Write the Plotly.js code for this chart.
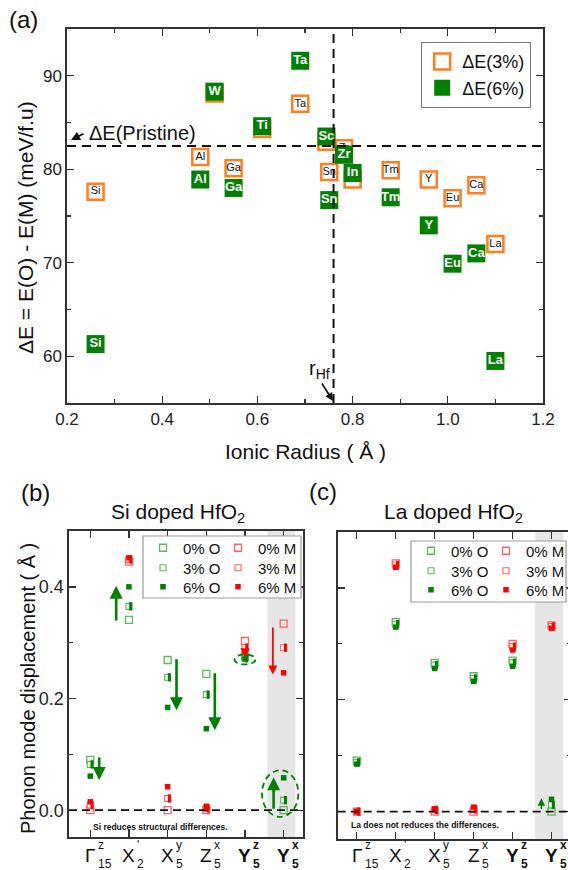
<!DOCTYPE html>
<html><head><meta charset="utf-8">
<script src="https://cdn.plot.ly/plotly-3.0.1.min.js"></script>
<style>html,body{margin:0;padding:0;overflow:hidden;background:#fff}#chart{width:572px;height:870px}</style>
</head><body><div id="chart"></div>
<script>
const W=572,H=870;
const px=v=>v/W, py=v=>1-v/H;
const FONT='Liberation Sans, Arial, sans-serif';

// ---------- Panel (a) data ----------
const elements=['Si','Al','Ga','W','Ti','Ta','Sc','Zr','Sn','In','Tm','Y','Eu','Ca','La'];
const ionicRadius=[0.26,0.48,0.55,0.51,0.61,0.69,0.745,0.782,0.751,0.80,0.88,0.96,1.01,1.06,1.10];
const dE3=[77.6,81.3,80.1,88.1,84.3,87.0,82.95,82.25,79.7,78.9,79.9,78.9,76.9,78.3,72.0];
const dE6=[61.3,78.9,78.0,88.3,84.6,91.6,83.5,81.55,76.7,79.6,77.0,74.0,69.9,71.0,59.5];
const pristineDE=82.5;
const rHf=0.76;

// ---------- Panels (b),(c) data ----------
const modeIdx=[0,1,2,3,4,5];
const modeMain=['Γ','X','X','Z','Y','Y'];
const modeSup=['z',"'",'y','x','z','x'];
const modeSub=['15','2','5','5','5','5'];
const modeBold=[false,false,false,false,true,true];

const siO0=[0.090,0.341,0.269,0.244,0.276,0.000];
const siO3=[0.082,0.365,0.238,0.207,0.272,0.018];
const siO6=[0.061,0.400,0.184,0.146,0.271,0.058];
const siM0=[0.000,0.445,0.000,0.000,0.303,0.334];
const siM3=[0.009,0.449,0.021,0.003,0.291,0.291];
const siM6=[0.015,0.452,0.042,0.007,0.283,0.246];

const laO0=[0.091,0.339,0.266,0.242,0.270,0.000];
const laO3=[0.088,0.335,0.262,0.238,0.266,0.012];
const laO6=[0.085,0.330,0.256,0.233,0.260,0.022];
const laM0=[0.000,0.444,0.000,0.000,0.300,0.333];
const laM3=[0.000,0.441,0.003,0.004,0.295,0.331];
const laM6=[0.000,0.437,0.005,0.008,0.289,0.328];

// arrows: [x, tailY, headY, color, width]
const arrowsSi=[[0.23,0.097,0.054,'#008000',2.6],[0.67,0.337,0.402,'#008000',2.6],[2.23,0.273,0.179,'#008000',2.6],
  [3.22,0.248,0.143,'#008000',2.6],[4.0,0.292,0.274,'#ff0000',1.8],[4.72,0.330,0.243,'#ff0000',1.8],[4.74,0.0,0.059,'#008000',2.6]];
const arrowsLa=[[4.74,0.002,0.024,'#008000',1.5]];
const ellipsesSi=[[4.44,5.38,-0.012,0.0716],[3.73,4.27,0.261,0.279]];
const shadeRange=[4.58,5.3];

const GREEN='#008000', LGREEN='#5cb85c', RED='#ff0000', LRED='#ff6060', ORANGE='#ff7f1a';
const halfOffset=0.045;

const traces=[];
traces.push({type:'scatter',mode:'markers+text',x:ionicRadius,y:dE3,text:elements,textposition:'middle center',
  textfont:{family:FONT,size:11,color:'#111'},name:'ΔE(3%)',legend:'legend',xaxis:'x',yaxis:'y',cliponaxis:false,
  marker:{symbol:'square',size:16,color:'white',line:{color:ORANGE,width:2.5}}});
traces.push({type:'scatter',mode:'markers+text',x:ionicRadius,y:dE6,text:elements.map(e=>'<b>'+e+'</b>'),textposition:'middle center',
  textfont:{family:FONT,size:13,color:'white'},name:'ΔE(6%)',legend:'legend',xaxis:'x',yaxis:'y',cliponaxis:false,
  marker:{symbol:'square',size:18,color:GREEN,line:{width:0}}});

const legends={};
let legCount=1;
function addSeries(vals,kind,dark,light,name,xa,ya,legX,legY){
  legCount++;
  const leg='legend'+legCount;
  legends[leg]={bgcolor:'rgba(0,0,0,0)',borderwidth:0,xanchor:'left',yanchor:'middle',xref:'paper',yref:'paper',
    font:{family:FONT,size:15,color:'#111'},x:px(legX),y:py(legY)};
  if(kind===0){
    traces.push({type:'scatter',mode:'markers',x:modeIdx,y:vals,name:name,legend:leg,xaxis:xa,yaxis:ya,cliponaxis:false,
      marker:{symbol:'square-open',size:7,color:light,line:{width:1.3,color:light}}});
  } else if(kind===3){
    traces.push({type:'scatter',mode:'markers',x:modeIdx,y:vals,name:name,legend:leg,xaxis:xa,yaxis:ya,cliponaxis:false,
      marker:{symbol:'square',size:6,color:'white',line:{width:1.1,color:light}}});
    traces.push({type:'scatter',mode:'markers',x:modeIdx.map(v=>v+halfOffset),y:vals,showlegend:false,xaxis:xa,yaxis:ya,cliponaxis:false,hoverinfo:'skip',
      marker:{symbol:'line-ns-open',size:6,color:dark,line:{width:3,color:dark}}});
  } else {
    traces.push({type:'scatter',mode:'markers',x:modeIdx,y:vals,name:name,legend:leg,xaxis:xa,yaxis:ya,cliponaxis:false,
      marker:{symbol:'square',size:5.5,color:dark,line:{width:0}}});
  }
}
addSeries(siO0,0,GREEN,LGREEN,'0% O','x2','y2',143,548);
addSeries(siO3,3,GREEN,LGREEN,'3% O','x2','y2',143,568);
addSeries(siO6,6,GREEN,LGREEN,'6% O','x2','y2',143,587);
addSeries(siM0,0,RED,LRED,'0% M','x2','y2',218,548);
addSeries(siM3,3,RED,LRED,'3% M','x2','y2',218,568);
addSeries(siM6,6,RED,LRED,'6% M','x2','y2',218,587);
addSeries(laO0,0,GREEN,LGREEN,'0% O','x3','y3',411,551);
addSeries(laO3,3,GREEN,LGREEN,'3% O','x3','y3',411,571);
addSeries(laO6,6,GREEN,LGREEN,'6% O','x3','y3',411,590);
addSeries(laM0,0,RED,LRED,'0% M','x3','y3',486,551);
addSeries(laM3,3,RED,LRED,'3% M','x3','y3',486,571);
addSeries(laM6,6,RED,LRED,'6% M','x3','y3',486,590);

const axisStyle={showline:true,linecolor:'#333',linewidth:1.6,mirror:'ticks',ticks:'inside',ticklen:7,tickwidth:1.4,tickcolor:'#333',
  showgrid:false,zeroline:false,tickfont:{family:FONT,size:17,color:'#222'}};
const minorStyle={ticks:'inside',ticklen:4,tickwidth:1.2,tickcolor:'#333',showgrid:false};

const shapes=[];
shapes.push({type:'line',xref:'x domain',x0:0,x1:1,yref:'y',y0:pristineDE,y1:pristineDE,line:{color:'#111',width:2,dash:'9px,6px'}});
shapes.push({type:'line',xref:'x',x0:rHf,x1:rHf,yref:'y domain',y0:0,y1:1,line:{color:'#111',width:2,dash:'9px,6px'}});
shapes.push({type:'rect',layer:'below',xref:'x2',x0:shadeRange[0],x1:shadeRange[1],yref:'y2 domain',y0:0,y1:1,fillcolor:'#e6e6e6',line:{width:0}});
shapes.push({type:'rect',layer:'below',xref:'x3',x0:shadeRange[0],x1:shadeRange[1],yref:'y3 domain',y0:0,y1:1,fillcolor:'#e6e6e6',line:{width:0}});
shapes.push({type:'line',xref:'x2 domain',x0:0,x1:1,yref:'y2',y0:0,y1:0,line:{color:'#111',width:1.8,dash:'8px,5px'}});
shapes.push({type:'line',xref:'x3 domain',x0:0,x1:1,yref:'y3',y0:0,y1:0,line:{color:'#111',width:1.8,dash:'8px,5px'}});
ellipsesSi.forEach(e=>shapes.push({type:'circle',xref:'x2',yref:'y2',x0:e[0],x1:e[1],y0:e[2],y1:e[3],line:{color:GREEN,width:1.8,dash:'6px,4px'}}));
shapes.push({type:'rect',layer:'above',xref:'paper',yref:'paper',x0:px(143),x1:px(301),y0:py(598),y1:py(536),fillcolor:'white',line:{color:'#9a9a9a',width:1.2}});
shapes.push({type:'rect',layer:'above',xref:'paper',yref:'paper',x0:px(411),x1:px(566),y0:py(602),y1:py(541),fillcolor:'white',line:{color:'#9a9a9a',width:1.2}});

const ann=[];
const A=(o)=>ann.push(Object.assign({showarrow:false,xanchor:'center',yanchor:'middle',font:{family:FONT,size:15,color:'#111'}},o));
A({text:'(a)',xref:'paper',yref:'paper',x:px(23),y:py(20),font:{family:FONT,size:24,color:'#111'}});
A({text:'ΔE = E(O) - E(M) (meV/f.u)',textangle:-90,xref:'paper',yref:'paper',x:px(25),y:py(228),font:{family:FONT,size:21,color:'#111'}});
A({text:'Ionic Radius ( Å )',xref:'paper',yref:'paper',x:px(305),y:py(452),font:{family:FONT,size:21,color:'#111'}});
A({text:'ΔE(Pristine)',xref:'paper',yref:'paper',x:px(87),xanchor:'left',y:py(133),font:{family:FONT,size:20,color:'#111'}});
ann.push({text:'',xref:'paper',yref:'paper',x:px(71),y:py(140),ax:14,ay:-7,showarrow:true,arrowhead:2,arrowsize:1,arrowwidth:1.8,arrowcolor:'#111'});
A({text:'r<sub>Hf</sub>',xref:'paper',yref:'paper',x:px(319),y:py(369),font:{family:FONT,size:20,color:'#111'}});
ann.push({text:'',xref:'paper',yref:'paper',x:px(333),y:py(401),ax:-12,ay:-19,showarrow:true,arrowhead:2,arrowsize:1,arrowwidth:1.6,arrowcolor:'#111'});

A({text:'(b)',xref:'paper',yref:'paper',x:px(35),y:py(492),font:{family:FONT,size:24,color:'#111'}});
A({text:'(c)',xref:'paper',yref:'paper',x:px(323),y:py(491),font:{family:FONT,size:24,color:'#111'}});
A({text:'Si doped HfO<sub>2</sub>',xref:'paper',yref:'paper',x:px(178),y:py(513),font:{family:FONT,size:21,color:'#111'}});
A({text:'La doped HfO<sub>2</sub>',xref:'paper',yref:'paper',x:px(453),y:py(513),font:{family:FONT,size:21,color:'#111'}});
A({text:'Phonon mode displacement ( Å )',textangle:-90,xref:'paper',yref:'paper',x:px(28),y:py(689),font:{family:FONT,size:20,color:'#111'}});
A({text:'<b>Si reduces structural differences.</b>',xref:'paper',yref:'paper',x:px(160),y:py(827),font:{family:FONT,size:8.5,color:'#111'}});
A({text:'<b>La does not reduces the differences.</b>',xref:'paper',yref:'paper',x:px(425),y:py(825),font:{family:FONT,size:8.5,color:'#111'}});

['x2','x3'].forEach(xa=>{
  modeIdx.forEach(i=>{
    const b=modeBold[i]?s=>'<b>'+s+'</b>':s=>s;
    A({text:b(modeMain[i]),xref:xa,yref:'paper',x:i,y:py(855),font:{family:FONT,size:19,color:'#111'}});
    A({text:b(modeSup[i]),xref:xa,yref:'paper',x:i,xshift:6,xanchor:'left',y:py(845),font:{family:FONT,size:12,color:'#111'}});
    A({text:b(modeSub[i]),xref:xa,yref:'paper',x:i,xshift:6,xanchor:'left',y:py(864),font:{family:FONT,size:12,color:'#111'}});
  });
});
function addArrows(list,xa,ya){
  list.forEach(a=>ann.push({text:'',xref:xa,yref:ya,axref:xa,ayref:ya,x:a[0],y:a[2],ax:a[0],ay:a[1],showarrow:true,
    arrowhead:2,arrowsize:1,arrowwidth:a[4],arrowcolor:a[3],standoff:0,startstandoff:0}));
}
addArrows(arrowsSi,'x2','y2');
addArrows(arrowsLa,'x3','y3');

const layout=Object.assign({
  width:W,height:H,margin:{l:0,r:0,t:0,b:0},paper_bgcolor:'white',plot_bgcolor:'rgba(0,0,0,0)',
  font:{family:FONT,size:15,color:'#222'},showlegend:true,
  xaxis:Object.assign({},axisStyle,{domain:[px(67),px(543)],anchor:'y',range:[0.2,1.2],tick0:0.2,dtick:0.2,tickformat:'.1f',minor:Object.assign({dtick:0.1},minorStyle)}),
  yaxis:Object.assign({},axisStyle,{domain:[py(403),py(29)],anchor:'x',range:[55,95],tick0:60,dtick:10,minor:Object.assign({dtick:5},minorStyle)}),
  xaxis2:Object.assign({},axisStyle,{domain:[px(69),px(303)],anchor:'y2',range:[-0.55,5.5],tickvals:modeIdx,showticklabels:false}),
  yaxis2:Object.assign({},axisStyle,{domain:[py(837),py(531)],anchor:'x2',range:[-0.048,0.5],tickvals:[0,0.2,0.4],tickformat:'.1f',tickfont:{family:FONT,size:18,color:'#222'},minor:Object.assign({tickvals:[0.1,0.3]},minorStyle)}),
  xaxis3:Object.assign({},axisStyle,{domain:[px(337.7),px(571)],anchor:'y3',range:[-0.49,5.5],tickvals:modeIdx,showticklabels:false}),
  yaxis3:Object.assign({},axisStyle,{domain:[py(839),py(532)],anchor:'x3',range:[-0.049,0.5],tickvals:[0,0.2,0.4],showticklabels:false,minor:Object.assign({tickvals:[0.1,0.3]},minorStyle)}),
  legend:{bgcolor:'white',bordercolor:'#777',borderwidth:1.2,x:px(421),y:py(42),xanchor:'left',yanchor:'top',font:{family:FONT,size:18,color:'#111'}},
  shapes:shapes,annotations:ann
},legends);
Plotly.newPlot('chart',traces,layout,{displayModeBar:false,staticPlot:true});
</script></body></html>
